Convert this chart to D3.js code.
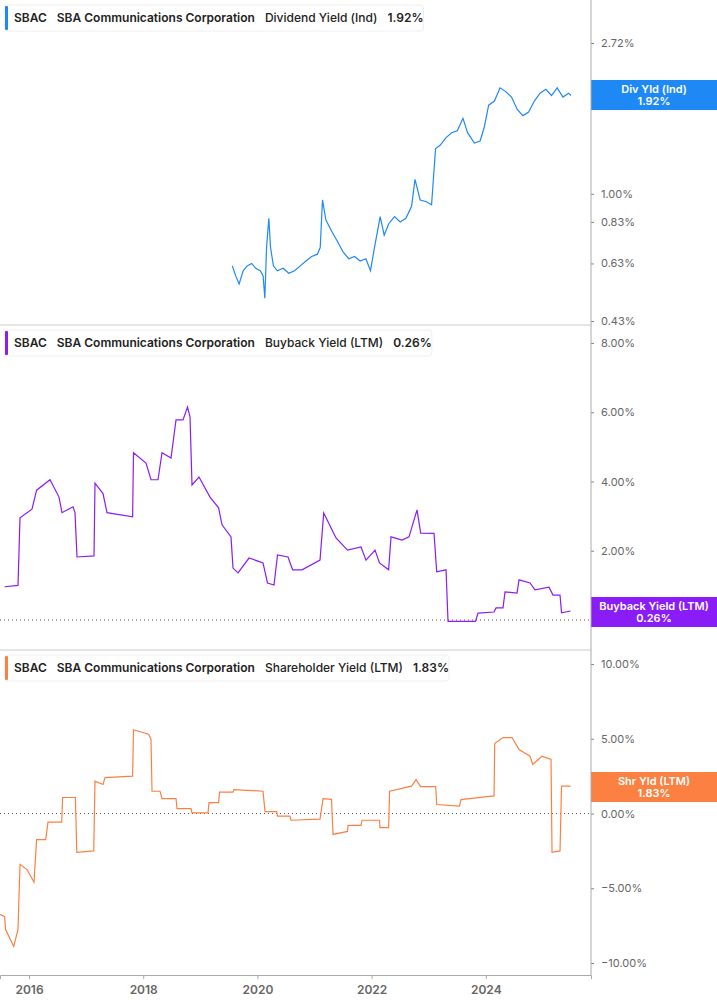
<!DOCTYPE html>
<html><head><meta charset="utf-8">
<script src="https://cdn.jsdelivr.net/npm/d3@7"></script>
<style>body{margin:0;background:#fff}text{font-family:Inter,"Noto Sans",sans-serif}</style>
</head><body>
<svg id="chart" width="717" height="1005"></svg>
<script>
// decimal year / percent pairs
var divT = [2019.56,2019.62,2019.68,2019.75,2019.82,2019.9,2019.97,2020.05,2020.1,2020.13,2020.16,2020.2,2020.23,2020.28,2020.35,2020.45,2020.55,2020.65,2020.75,2020.85,2020.95,2021.05,2021.1,2021.14,2021.2,2021.3,2021.4,2021.5,2021.6,2021.7,2021.8,2021.9,2021.98,2022.05,2022.15,2022.22,2022.3,2022.4,2022.5,2022.6,2022.7,2022.76,2022.85,2022.95,2023.05,2023.12,2023.2,2023.3,2023.4,2023.5,2023.6,2023.68,2023.8,2023.9,2023.97,2024.05,2024.15,2024.25,2024.35,2024.45,2024.55,2024.65,2024.75,2024.85,2024.95,2025.05,2025.15,2025.25,2025.35,2025.45,2025.49];
var divV = [0.62,0.58,0.55,0.6,0.62,0.63,0.61,0.60,0.58,0.50,0.70,0.85,0.70,0.62,0.60,0.61,0.59,0.60,0.62,0.64,0.66,0.67,0.70,0.96,0.84,0.78,0.73,0.68,0.65,0.66,0.64,0.65,0.60,0.70,0.86,0.76,0.82,0.86,0.83,0.85,0.92,1.10,0.96,0.95,0.93,1.35,1.38,1.45,1.50,1.52,1.65,1.50,1.40,1.42,1.55,1.80,1.85,2.02,1.97,1.90,1.75,1.68,1.72,1.85,1.95,2.0,1.92,2.02,1.90,1.95,1.92];

var bbX = [4.6,18,20,32,36.6,50,59,62,73,75,77,94,95,103,107,132.6,133.5,146,151,158,162,171,176,183,187.5,190,192,199,210,218.6,222,231,233,238,249,263,267.5,274,277.5,288,292.6,302,320,323.7,336,347.5,361,366,375,379.5,388.6,391,402,409,417,420.7,434,436.7,446,448,475.5,478,494,496,503,505,517,519,530,535,549,553,560,561.5,570.6];
var bbV = [0.96,1.0,2.95,3.2,3.75,4.05,3.55,3.1,3.27,3.1,1.82,1.85,3.95,3.65,3.1,2.98,4.83,4.53,4.05,4.05,4.83,4.68,5.78,5.78,6.15,5.87,3.9,4.13,3.55,3.24,2.75,2.4,1.5,1.36,1.79,1.65,1.07,1.01,1.88,1.82,1.45,1.45,1.73,3.09,2.37,2.02,2.11,1.73,2.02,1.65,1.45,2.4,2.31,2.4,3.18,2.51,2.5,1.39,1.45,-0.04,-0.04,0.2,0.23,0.35,0.35,0.81,0.78,1.16,1.07,0.87,0.95,0.72,0.72,0.21,0.26];

var shX = [0,4.6,5.5,13.7,18,20,27,34,36.6,45.7,48,61.7,62.6,75.4,76.8,93.7,95,103,105,132.6,133.5,148.6,151,152,160,162,176,177,191,192,208,209,218.6,219.5,233,234,263,265,276.6,277.5,290,291,320,323,331.5,333,347.5,348,361,362,379.5,380,388.6,389.6,411.5,416,420.7,435.7,436.7,459.5,461,491.5,494,494.7,503,512,519,530,532.7,542,551,552,560,561.5,570.6];
var shV = [-6.75,-6.9,-7.75,-8.9,-7.75,-3.4,-3.75,-4.6,-1.75,-1.75,-0.58,-0.58,1.07,1.07,-2.6,-2.5,2.16,1.94,2.4,2.5,5.6,5.3,4.95,1.49,1.49,1.0,1.0,0.33,0.33,0.04,0.04,0.73,0.73,1.43,1.43,1.6,1.49,0.13,0.13,-0.18,-0.18,-0.45,-0.38,1.0,0.95,-1.4,-1.2,-0.8,-0.8,-0.45,-0.45,-0.94,-0.94,1.49,1.83,2.27,1.8,1.8,0.6,0.5,0.93,1.16,1.16,4.68,5.08,5.08,4.28,3.83,3.28,3.83,3.61,-2.6,-2.5,1.83,1.83];

var yearTicks = [2016,2018,2020,2022,2024];
var divTicks = [0.43,0.63,0.83,1.00,2.00,2.72];
var bbTicks = [0,2,4,6,8];
var shTicks = [-10,-5,0,5,10];

var svg = d3.select("#chart");
var plotRight = 591;

// x: decimal year
var x = d3.scaleLinear().domain([2015.492, 2025.842]).range([0, plotRight]);
// buyback and shareholder positions were read as pixel x, convert to years
function pxToYear(p){ return 2016 + (p - 29) / 57.1; }

var panels = [
  {top:0, bottom:325, y:d3.scaleLog().domain([0.43,2.72]).range([321,43]), ticks:divTicks,
   t:divT, v:divV, color:"#1e88f5", name:"Dividend Yield (Ind)", last:"1.92%",
   tag:["Div Yld (Ind)","1.92%"], tagY:80, zero:false},
  {top:325, bottom:650, y:d3.scaleLinear().domain([0,8]).range([620,343]), ticks:bbTicks,
   t:bbX.map(pxToYear), v:bbV, color:"#8a1cf7", name:"Buyback Yield (LTM)", last:"0.26%",
   tag:["Buyback Yield (LTM)","0.26%"], tagY:597, zero:true},
  {top:650, bottom:975, y:d3.scaleLinear().domain([-10,10]).range([963,664]), ticks:shTicks,
   t:shX.map(pxToYear), v:shV, color:"#fb8042", name:"Shareholder Yield (LTM)", last:"1.83%",
   tag:["Shr Yld (LTM)","1.83%"], tagY:772, zero:true}
];

panels.forEach(function(p){
  var g = svg.append("g");
  // right axis
  var ax = g.append("g").attr("transform","translate(" + plotRight + ",0)")
    .call(d3.axisRight(p.y).tickValues(p.ticks).tickSize(3).tickPadding(7)
      .tickFormat(function(d){ return d3.format(".2f")(d) + "%"; }));
  ax.select(".domain").remove();
  ax.selectAll("line").attr("stroke","#888");
  ax.selectAll("text").attr("fill","#666").attr("font-size","11px");

  if (p.zero) {
    g.append("line").attr("x1",0).attr("x2",plotRight)
      .attr("y1",p.y(0)).attr("y2",p.y(0))
      .attr("stroke","#555").attr("stroke-dasharray","1,3");
  }

  var pts = p.t.map(function(t,i){ return [t, p.v[i]]; });
  g.append("path").datum(pts)
    .attr("d", d3.line().x(function(d){ return x(d[0]); }).y(function(d){ return p.y(d[1]); }))
    .attr("fill","none").attr("stroke",p.color).attr("stroke-width",1.2);

  // legend box
  var lg = g.append("g").attr("transform","translate(5," + (p.top + 5) + ")");
  var box = lg.append("rect").attr("height",26).attr("rx",3)
    .attr("fill","#fff").attr("stroke","#eee");
  lg.append("rect").attr("x",0).attr("y",1).attr("width",3).attr("height",24).attr("fill",p.color).attr("rx",1);
  var tx = lg.append("text").attr("x",9).attr("y",17).attr("font-size","12px")
    .attr("font-weight","600").attr("fill","#222");
  tx.append("tspan").text("SBAC");
  tx.append("tspan").attr("dx",10).text("SBA Communications Corporation");
  tx.append("tspan").attr("dx",10).attr("font-weight","500").text(p.name);
  tx.append("tspan").attr("dx",10).text(p.last);
  box.attr("width", tx.node().getComputedTextLength() + 9 + 30);

  // value tag
  g.append("rect").attr("x",plotRight).attr("y",p.tagY).attr("width",717-plotRight).attr("height",30).attr("fill",p.color);
  g.append("text").attr("x",654).attr("y",p.tagY + 13).attr("text-anchor","middle")
    .attr("fill","#fff").attr("font-size","11px").attr("font-weight","600").text(p.tag[0]);
  g.append("text").attr("x",654).attr("y",p.tagY + 25).attr("text-anchor","middle")
    .attr("fill","#fff").attr("font-size","11px").attr("font-weight","600").text(p.tag[1]);

  if (p.top > 0) {
    svg.append("line").attr("x1",0).attr("x2",plotRight).attr("y1",p.top).attr("y2",p.top).attr("stroke","#ccc");
  }
});

svg.append("line").attr("x1",plotRight).attr("x2",plotRight).attr("y1",0).attr("y2",975).attr("stroke","#aaa");

var xa = svg.append("g").attr("transform","translate(0,975)")
  .call(d3.axisBottom(x).tickValues(yearTicks).tickFormat(d3.format("d")).tickSize(4).tickPadding(6));
xa.select(".domain").attr("stroke","#aaa");
xa.selectAll("line").attr("stroke","#aaa");
xa.selectAll("text").attr("fill","#666").attr("font-size","12px").attr("font-weight","600");
</script>
</body></html>
